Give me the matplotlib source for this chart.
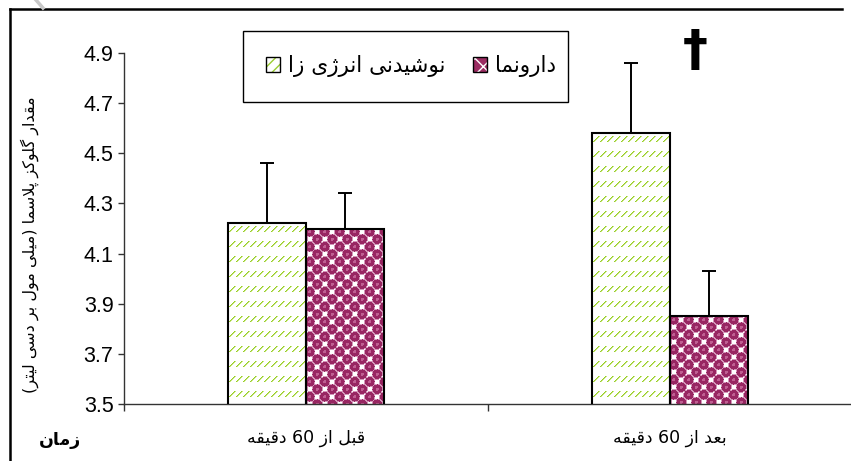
import re
import numpy as np
import matplotlib
matplotlib.use("Agg")
import matplotlib.pyplot as plt
from matplotlib.patches import Patch, Rectangle
from matplotlib.lines import Line2D

# ---------------- data ----------------
categories = ["قبل از 60 دقیقه", "بعد از 60 دقیقه"]
series_names = ["نوشیدنی انرژی زا", "دارونما"]
energy_vals = [4.22, 4.58]
energy_err = [0.24, 0.28]
placebo_vals = [4.20, 3.85]
placebo_err = [0.14, 0.18]
y_ticks = [3.5, 3.7, 3.9, 4.1, 4.3, 4.5, 4.7, 4.9]
y_label = "مقدار گلوکز پلاسما (میلی مول بر دسی لیتر)"
x_label = "زمان"
marker_text = "†"

# ------------- minimal Persian shaping + RTL ordering -------------
FORMS = {
    '\u0627': ('\uFE8D', '\uFE8E', None, None),
    '\u0628': ('\uFE8F', '\uFE90', '\uFE91', '\uFE92'),
    '\u067E': ('\uFB56', '\uFB57', '\uFB58', '\uFB59'),
    '\u062A': ('\uFE95', '\uFE96', '\uFE97', '\uFE98'),
    '\u062F': ('\uFEA9', '\uFEAA', None, None),
    '\u0631': ('\uFEAD', '\uFEAE', None, None),
    '\u0632': ('\uFEAF', '\uFEB0', None, None),
    '\u0698': ('\uFB8A', '\uFB8B', None, None),
    '\u0633': ('\uFEB1', '\uFEB2', '\uFEB3', '\uFEB4'),
    '\u0634': ('\uFEB5', '\uFEB6', '\uFEB7', '\uFEB8'),
    '\u0639': ('\uFEC9', '\uFECA', '\uFECB', '\uFECC'),
    '\u0642': ('\uFED5', '\uFED6', '\uFED7', '\uFED8'),
    '\u06A9': ('\uFB8E', '\uFB8F', '\uFB90', '\uFB91'),
    '\u06AF': ('\uFB92', '\uFB93', '\uFB94', '\uFB95'),
    '\u0644': ('\uFEDD', '\uFEDE', '\uFEDF', '\uFEE0'),
    '\u0645': ('\uFEE1', '\uFEE2', '\uFEE3', '\uFEE4'),
    '\u0646': ('\uFEE5', '\uFEE6', '\uFEE7', '\uFEE8'),
    '\u0647': ('\uFEE9', '\uFEEA', '\uFEEB', '\uFEEC'),
    '\u0648': ('\uFEED', '\uFEEE', None, None),
    '\u06CC': ('\uFBFC', '\uFBFD', '\uFBFE', '\uFBFF'),
}


def _dual(c):
    return c in FORMS and FORMS[c][2] is not None


def shape(s):
    out = []
    i, n = 0, len(s)
    while i < n:
        c = s[i]
        if c not in FORMS:
            out.append(c)
            i += 1
            continue
        prev = s[i - 1] if i > 0 else ''
        jp = _dual(prev)
        if c == '\u0644' and i + 1 < n and s[i + 1] == '\u0627':
            out.append('\uFEFC' if jp else '\uFEFB')
            i += 2
            continue
        nxt = s[i + 1] if i + 1 < n else ''
        jn = _dual(c) and (nxt in FORMS)
        iso, fin, ini, med = FORMS[c]
        if jp and jn:
            out.append(med)
        elif jp:
            out.append(fin)
        elif jn:
            out.append(ini)
        else:
            out.append(iso)
        i += 1
    return ''.join(out)


def rtl(s):
    parts = re.findall(r'[0-9.]+|.', shape(s))[::-1]
    mirror = {'(': ')', ')': '('}
    return ''.join(mirror.get(p, p) for p in parts)


# ---------------- textures ----------------
def green_texture(h, w):
    img = np.ones((h, w, 3))
    dark = np.array([150, 205, 40]) / 255
    light = np.array([200, 230, 125]) / 255
    for y0 in range(8, h + 6, 15):
        for x0 in range(1, w, 7):
            for t in range(6):
                x, y = x0 + t, y0 - t
                if 0 <= y < h:
                    if 0 <= x < w:
                        img[y, x] = dark
                    if 0 <= x + 1 < w:
                        img[y, x + 1] = light
    return img


def purple_texture(h, w):
    s = 7.5
    yy, xx = np.mgrid[0:h, 0:w] + 0.5
    i = np.floor(xx / s)
    j = np.floor(yy / s)
    img = np.ones((h, w, 3))
    maroon = np.array([152, 38, 98]) / 255
    pink = np.array([212, 150, 185]) / 255
    hl = np.array([190, 95, 145]) / 255
    dmin = np.full((h, w), 99.0)
    for di in (-1, 0, 1):
        for dj in (-1, 0, 1):
            ci = i + di
            cj = j + dj
            ok = ((ci + cj) % 2 == 0)
            cx = (ci + 0.5) * s
            cy = (cj + 0.5) * s
            d = np.hypot(xx - cx, yy - cy)
            d = np.where(ok, d, 99.0)
            dmin = np.minimum(dmin, d)
    img[dmin < 5.6] = pink
    img[dmin < 4.8] = maroon
    img[(dmin < 1.6)] = hl
    return img


# ---------------- figure ----------------
W, H = 851, 461
fig = plt.figure(figsize=(W / 100, H / 100), dpi=100)
ax_l, ax_r, ax_t, ax_b = 124, 852, 53, 404
ax = fig.add_axes([ax_l / W, 1 - ax_b / H, (ax_r - ax_l) / W, (ax_b - ax_t) / H])
y_min, y_max = y_ticks[0], y_ticks[-1]
ax.set_xlim(-0.5, len(categories) - 0.5)
ax.set_ylim(y_min, y_max)

x = np.arange(len(categories))
bw = 0.213
bars_e = ax.bar(x - bw / 2, energy_vals, bw, facecolor='none', edgecolor='black',
                linewidth=1.5, zorder=3)
bars_p = ax.bar(x + bw / 2, placebo_vals, bw, facecolor='none', edgecolor='black',
                linewidth=1.5, zorder=3)

fig.canvas.draw()
for bars, texfun in ((bars_e, green_texture), (bars_p, purple_texture)):
    for b in bars:
        x0, y0 = b.get_x(), max(b.get_y(), y_min)
        x1, y1 = b.get_x() + b.get_width(), b.get_y() + b.get_height()
        p0 = ax.transData.transform((x0, y0))
        p1 = ax.transData.transform((x1, y1))
        wpx = max(1, int(round(p1[0] - p0[0])))
        hpx = max(1, int(round(p1[1] - p0[1])))
        ax.imshow(texfun(hpx, wpx), extent=(x0, x1, y0, y1), aspect='auto',
                  interpolation='nearest', origin='upper', zorder=2)
ax.set_xlim(-0.5, len(categories) - 0.5)
ax.set_ylim(y_min, y_max)

ax.errorbar(x - bw / 2, energy_vals, yerr=[np.zeros(len(x)), energy_err], fmt='none',
            ecolor='black', elinewidth=1.4, capsize=5, capthick=1.4, zorder=1)
ax.errorbar(x + bw / 2, placebo_vals, yerr=[np.zeros(len(x)), placebo_err], fmt='none',
            ecolor='black', elinewidth=1.4, capsize=5, capthick=1.4, zorder=1)

# axes styling
for sp in ('top', 'right'):
    ax.spines[sp].set_visible(False)
for sp in ('left', 'bottom'):
    ax.spines[sp].set_color('#333333')
    ax.spines[sp].set_linewidth(1.0)
ax.set_yticks(y_ticks)
ax.set_yticklabels([f"{v:.1f}" for v in y_ticks], fontsize=15.5,
                   family=['Liberation Sans', 'DejaVu Sans'])
ax.tick_params(axis='y', direction='out', length=4.5, width=1, color='#333333', pad=3)
ax.set_xticks([-0.5, 0.5, 1.5])
ax.set_xticklabels([])
ax.tick_params(axis='x', which='major', direction='out', length=5, width=1, color='#333333')
ax.set_xticks(x, minor=True)
ax.set_xticklabels([rtl(c) for c in categories], minor=True, fontsize=12.5,
                   family=['DejaVu Sans'])
ax.tick_params(axis='x', which='minor', length=0, pad=18)

# legend
h_e = (Patch(facecolor='white', edgecolor='#9acd32', hatch='///', linewidth=0),
       Patch(facecolor='none', edgecolor='black', linewidth=1))
h_p = (Patch(facecolor='#9b2c62', edgecolor='white', hatch='xx', linewidth=0),
       Patch(facecolor='none', edgecolor='black', linewidth=1))
leg = fig.legend([h_e, h_p], [rtl(n) for n in series_names], loc='center',
                 bbox_to_anchor=(411 / W, 1 - 66 / H), ncol=2, frameon=False,
                 prop={'family': 'DejaVu Sans', 'size': 15.5},
                 handlelength=0.65, handleheight=0.65, handletextpad=0.35,
                 columnspacing=1.3, borderpad=0, borderaxespad=0)
fig.add_artist(Rectangle((243 / W, 1 - 102 / H), (568 - 243) / W, (102 - 31) / H,
                         transform=fig.transFigure, facecolor='none', edgecolor='black',
                         linewidth=1.0))

# texts
fig.text(30 / W, 1 - 245 / H, rtl(y_label), rotation=90, ha='center', va='center',
         fontsize=11.5, family='DejaVu Sans')
fig.text(60 / W, 1 - 440 / H, rtl(x_label), ha='center', va='center', fontsize=12.5,
         fontweight='bold', family='DejaVu Sans')
fig.text(695 / W, 1 - 51 / H, marker_text, ha='center', va='center', fontsize=36,
         fontweight='bold', family='DejaVu Sans')

# outer frame + corner artifact
fig.add_artist(Line2D([10 / W, 10 / W], [0, 1 - 9 / H], transform=fig.transFigure,
                      color='black', linewidth=1.8))
fig.add_artist(Line2D([10 / W, 842 / W], [1 - 9 / H, 1 - 9 / H], transform=fig.transFigure,
                      color='black', linewidth=1.8))
fig.add_artist(Line2D([36 / W, 43 / W], [1.0, 1 - 8 / H], transform=fig.transFigure,
                      color='#c8c8c8', linewidth=2.5))

fig.savefig("out.png", dpi=100)
